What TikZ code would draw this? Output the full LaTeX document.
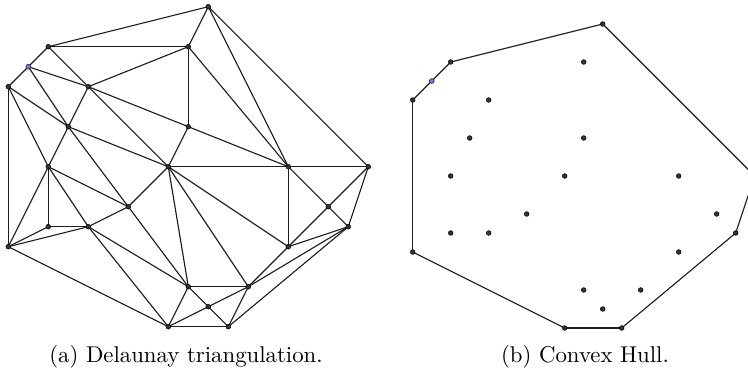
\documentclass[tikz,border=0pt]{standalone}
\usepackage{xcolor}
\definecolor{edgec}{HTML}{1E1E1E}
\definecolor{dotc}{HTML}{333333}
\definecolor{bluedot}{HTML}{7A7AF0}
\begin{document}
\begin{tikzpicture}[x=0.4386pt,y=-0.4386pt,
  edge/.style={draw=edgec,line width=0.5pt},
  dotnode/.style={circle,fill=dotc,draw=black,line width=0.2pt,inner sep=0pt,minimum size=2.1pt},
  bluenode/.style={circle,fill=bluedot,draw=dotc,line width=0.3pt,inner sep=0pt,minimum size=2.1pt},
  caption/.style={anchor=base,font=\fontsize{10}{12}\selectfont}]
\clip (0,0) rectangle (748,372);
\fill[white] (0,0) rectangle (748,372);
% point set, left (Delaunay) and right (convex hull)
\foreach \n/\i/\j in {A/10/0, B/2/2, C/1/3, D/0/4, E/4/4, F/9/2, G/3/6, H/9/6, I/2/8, J/8/8, K/14/8, L/18/8, M/6/10, N/2/11, O/4/11, P/0/12, Q/16/10, R/17/11, S/14/12, T/9/14, U/12/14, V/10/15, W/8/16, X/11/16} {
  \coordinate (l\n) at ({8.3+20*\i},{6.7+20*\j});
  \coordinate (r\n) at ({412.7+19*\i},{24+19*\j});
}
% Delaunay edges
\foreach \a/\b in {A/B, A/F, A/K, A/L, B/C, B/E, B/F, C/D, C/E, C/G, D/G, D/I, D/P,
  E/F, E/G, E/H, E/J, F/H, F/K, G/I, G/J, G/M, H/J, H/K, I/M, I/N, I/O, I/P,
  J/K, J/M, J/S, J/T, J/U, K/L, K/Q, K/S, L/Q, L/R, M/O, M/T, N/O, N/P,
  O/P, O/T, O/W, P/W, Q/R, Q/S, R/S, R/U, R/X, S/U, T/U, T/V, T/W, U/V, U/X,
  V/W, V/X, W/X}
  \draw[edge] (l\a) -- (l\b);
% convex hull edges
\foreach \a/\b in {A/L, L/R, R/X, X/W, W/P, P/D, D/C, C/B, B/A}
  \draw[edge] (r\a) -- (r\b);
% dots
\foreach \n in {A,B,D,E,F,G,H,I,J,K,L,M,N,O,P,Q,R,S,T,U,V,W,X} {
  \node[dotnode] (dl\n) at (l\n) {};
  \node[dotnode] (dr\n) at (r\n) {};
}
\node[bluenode] (dlC) at (lC) {};
\node[bluenode] (drC) at (rC) {};
% captions
\node[caption] (capa) at (186,362) {(a) Delaunay triangulation.};
\node[caption] (capb) at (585,362) {(b) Convex Hull.};
\end{tikzpicture}
\end{document}
